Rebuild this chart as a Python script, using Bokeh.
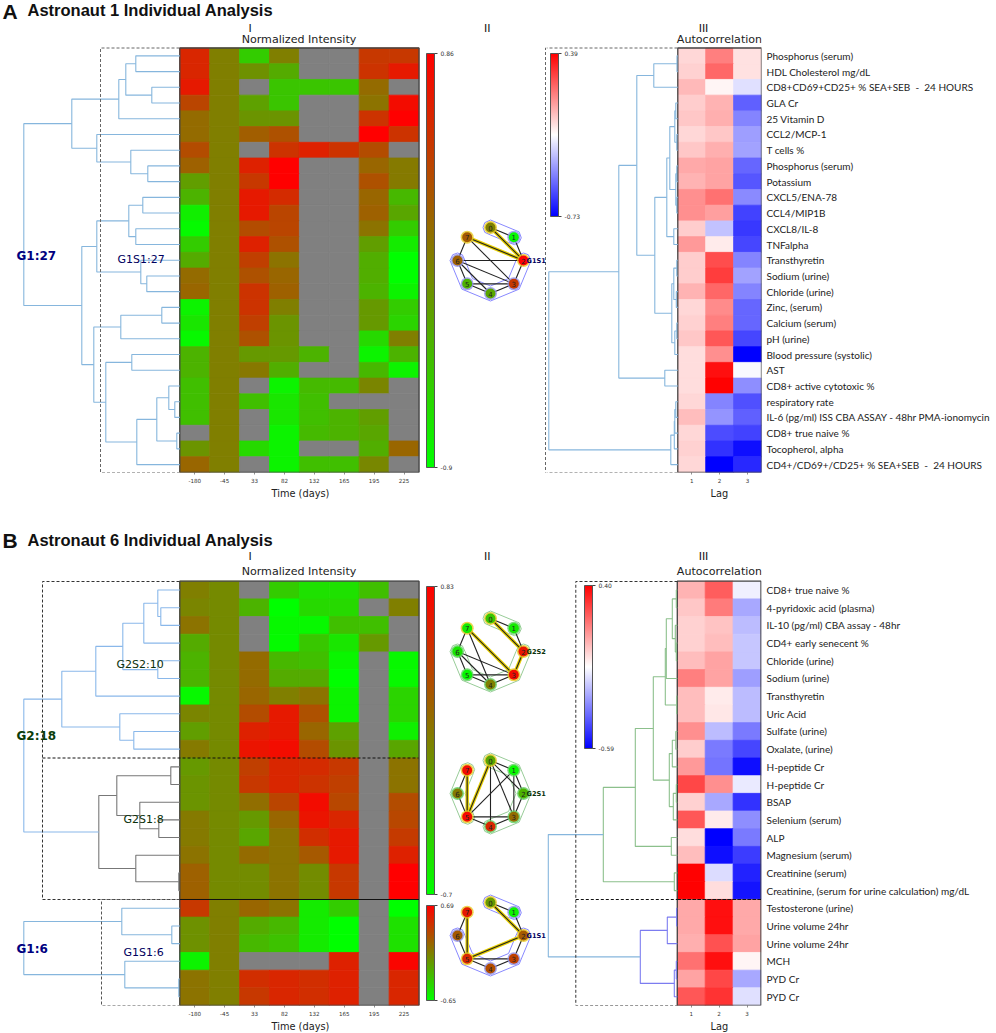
import numpy as np
from bokeh.plotting import figure
from bokeh.layouts import column, row
from bokeh.models import (ColumnDataSource, Range1d, LinearAxis, FixedTicker, LinearColorMapper,
                          ColorBar, Title)
from bokeh.core.properties import value
from bokeh.transform import transform
from bokeh.embed import file_html
from bokeh.resources import INLINE

N = None
TIMES = ["-180", "-45", "33", "82", "132", "165", "195", "225"]
LAGS = ["1", "2", "3"]

# position of each cell on its colour scale, percent (0 = bottom of bar, 100 = top), None = missing
A_INTENSITY = [
 [85,50,20,50,N,N,78,78],[85,50,43,33,N,N,80,90],[90,50,N,23,23,23,58,N],[73,50,37,23,N,N,55,95],
 [58,50,42,42,N,N,80,100],[58,50,63,68,N,N,100,80],[70,50,N,80,87,80,70,N],[62,50,87,100,N,N,60,52],
 [38,50,78,100,N,N,68,52],[30,50,90,83,N,N,60,28],[7,50,90,73,N,N,62,35],[2,50,70,73,N,N,55,20],
 [20,50,87,68,N,N,38,8],[33,50,75,55,N,N,32,0],[58,50,68,60,N,N,32,0],[60,50,80,62,N,N,30,5],
 [5,50,80,50,N,N,40,20],[10,50,75,42,N,N,40,17],[3,50,68,42,N,N,15,50],[30,50,40,40,30,N,5,30],
 [30,50,53,32,N,N,28,5],[25,50,N,5,27,27,48,N],[25,50,25,10,25,N,N,N],[25,50,N,10,25,30,38,N],
 [N,50,N,5,27,30,35,N],[42,50,15,5,N,N,32,60],[60,50,N,5,25,25,47,N]]
B_INTENSITY_G2 = [
 [50,46,N,20,12,12,25,N],[48,46,30,0,15,15,N,50],[55,46,N,3,3,25,25,N],[33,46,N,2,22,10,40,N],
 [30,46,58,28,25,4,N,3],[30,46,58,33,33,0,N,3],[3,46,60,50,55,5,N,17],[48,46,70,90,68,5,N,17],
 [38,46,87,90,60,37,N,6],[52,46,92,95,70,42,N,35],[40,46,75,85,83,78,N,55],[42,46,78,85,80,75,N,55],
 [42,46,57,73,95,72,N,70],[52,46,40,60,92,85,N,72],[52,46,35,55,82,90,N,77],[55,46,58,55,65,90,N,87],
 [62,46,45,55,45,78,N,100],[62,46,45,55,45,78,N,100]]
B_INTENSITY_G1 = [
 [78,50,60,55,8,20,N,0],[43,50,33,28,8,0,N,12],[43,50,28,24,8,0,N,12],
 [5,50,N,N,N,87,N,98],[55,50,82,85,82,87,N,85],[55,50,78,85,82,87,N,85]]
A_AUTOCORR = [
 [58,75,56],[59,80,56],[64,52,44],[60,65,19],[61,66,26],[58,61,31],[61,66,32],[67,68,20],[65,68,17],
 [72,78,27],[72,69,13],[60,38,11],[70,54,14],[60,85,26],[60,88,32],[65,80,26],[58,73,20],[59,75,20],
 [61,83,14],[57,72,0],[57,97,49],[57,100,28],[58,26,16],[63,29,19],[58,15,13],[59,10,3],[58,0,8]]
B_AUTOCORR = [
 [65,82,47],[61,76,33],[59,62,37],[59,63,39],[63,68,39],[75,68,31],[63,54,37],[63,55,37],[72,37,24],
 [60,24,14],[70,23,3],[86,72,46],[59,33,10],[83,54,28],[57,0,24],[63,3,12],[100,43,7],[100,57,4],
 [67,97,67],[67,97,67],[66,84,68],[78,97,52],[68,86,33],[83,90,44]]

NB = "\u00a0"
A_LABELS = ["Phosphorus (serum)","HDL Cholesterol mg/dL",f"CD8+CD69+CD25+ % SEA+SEB {NB}-{NB} 24 HOURS","GLA Cr",
 "25 Vitamin D","CCL2/MCP-1","T cells %","Phosphorus (serum)","Potassium","CXCL5/ENA-78","CCL4/MIP1B",
 "CXCL8/IL-8","TNFalpha","Transthyretin","Sodium (urine)","Chloride (urine)","Zinc, (serum)",
 "Calcium (serum)","pH (urine)","Blood pressure (systolic)","AST","CD8+ active cytotoxic %",
 "respiratory rate","IL-6 (pg/ml) ISS CBA ASSAY - 48hr PMA-ionomycin","CD8+ true naive %",
 "Tocopherol, alpha",f"CD4+/CD69+/CD25+ % SEA+SEB {NB}-{NB} 24 HOURS"]
B_LABELS = ["CD8+ true naive %","4-pyridoxic acid (plasma)","IL-10 (pg/ml) CBA assay - 48hr",
 "CD4+ early senecent %","Chloride (urine)","Sodium (urine)","Transthyretin","Uric Acid","Sulfate (urine)",
 "Oxalate, (urine)","H-peptide Cr","H-peptide Cr","BSAP","Selenium (serum)","ALP","Magnesium (serum)",
 "Creatinine (serum)","Creatinine, (serum for urine calculation) mg/dL","Testosterone (urine)",
 "Urine volume 24hr","Urine volume 24hr","MCH","PYD Cr","PYD Cr"]

# dendrograms: (merge height, child, child[, colour]); an integer child is a row
BLUE, GREY, LGREEN, VIOLET, SKY = "#86b6dd", "#777777", "#8cc08c", "#7c7cf0", "#8ab8ea"
A_TREE_LEFT = (156,
 (108, (61, (54, (44,0,1), (28,2,3)), 4), (83, 5, (49, 6, (32,7,8)))),
 (98, (83, (51, (37,9,10), (44,11,12)), (39, 13, (33,14,15))),
      (86, (59, (18,16,17), 18),
           (74, (48,19,20), (43, (23, (11,21,(5,22,23)), (3,24,25)), 26)))))
A_TREE_RIGHT = (129,
 (59, (41, (24, (0.8,0,1), 2),
           (23, (11, (8, (3, (2,3,4), (1,5,6)), (2, (1,7,8), (1,9,10))), (4,11,12)),
                (6, (4, (1,13,14), (1.5,15,16)), (3, (1,17,18), 19)))),
      (13,20,21)),
 (7, (3.5, (3, (2,22,23), 24), 25), 26))
B_TREE_LEFT_G2 = (156,
 (118, (84, (57, (36, (22, 0, (19,1,2)), 3), (22,4,5)), 6), (60, 7, (46,8,9))),
 (81, (63, (9,10,11), (40, 12, (21,13,14))), (44, 15, (1,16,17)), GREY))
B_TREE_LEFT_G1 = (156, (58, 18, (8,19,20)), (55, 21, (1,22,23)))
B_TREE_RIGHT = (129,
 (74, (42, (24, (12, (11, (5, (1,0,1), (2, 2, (1,3,4))), 5), (0.6,6,7)),
            (8, (5, (1.5,8,9), 10), (4, (1,11,12), 13))),
       (6,14,15)),
  (3,16,17), LGREEN),
 (37, (10, (0.7,18,19), 20), (3, (1,21,22), 23), VIOLET))

# networks: circular layout; edges, highlighted edges, hulls, node colour-scale positions
A_EDGES = [(0,1),(1,2),(7,6),(7,3),(6,2),(6,3),(6,5),(6,4),(5,4),(5,3),(4,3),(3,2)]
A_STRONG = [(0,2),(7,2)]
A_HULLS = [[0,1],[2,3,4,5,6]]
A_NODES = [50,3,100,78,35,30,62,65]
B1_EDGES = [(0,1),(1,2),(7,6),(7,4),(6,5),(6,4),(6,3),(5,4),(5,3),(4,3)]
B1_STRONG = [(0,2),(7,3),(3,2)]
B1_HULLS = [[0,1],[2,3,4,5,6]]
B1_NODES = [22,8,92,95,50,3,10,8]
B2_EDGES = [(7,6),(6,5),(0,1),(0,2),(0,3),(0,4),(1,2),(1,3),(1,5),(2,3),(3,4),(3,5),(4,5)]
B2_STRONG = [(7,5),(0,5)]
B2_HULLS = [[0,1,2,3,4],[5,6,7]]
B2_NODES = [35,3,30,58,85,97,52,95]
B3_EDGES = [(0,1),(1,2),(2,3),(3,4),(3,5),(4,5),(5,6),(6,7)]
B3_STRONG = [(0,2),(2,5),(7,5)]
B3_HULLS = [[0,1],[2,3,4,5,6]]
B3_NODES = [40,5,65,75,70,85,65,90]

RG = ["#%02x%02x00" % (i, 255 - i) for i in range(256)]
BWR = ["#%02x%02xff" % (2*i, 2*i) for i in range(128)] + ["#ff%02x%02x" % (255-2*i, 255-2*i) for i in range(128)]
SANS = "DejaVu Sans"
HEAD = "Liberation Sans"
LABF = "Lato"
SPLIT = 546


def make_fig(px0, px1, py0, py1, cx0, cxw, cols, top, rowh, nrows, bottom):
    p = figure(frame_width=px1-px0, frame_height=py1-py0, output_backend="svg", toolbar_location=None,
               x_axis_type=None, y_axis_type=None,
               x_range=Range1d((px0-cx0)/cxw, (px1-cx0)/cxw),
               y_range=Range1d((py1-top)/rowh, (py0-top)/rowh),
               min_border_left=0, min_border_right=0, min_border_top=0, min_border_bottom=bottom)
    p.outline_line_color = None
    p.extra_x_ranges["px"] = Range1d(px0, px1)
    p.extra_y_ranges["px"] = Range1d(py1, py0)
    p.extra_x_ranges["dist"] = Range1d(cx0-px0, cx0-px1)
    ax = LinearAxis(ticker=FixedTicker(ticks=[i+.5 for i in range(len(cols))]),
                    major_label_overrides={i+.5: c for i, c in enumerate(cols)})
    ax.axis_line_color = None
    ax.minor_tick_line_color = None
    ax.major_tick_in = 0
    ax.major_tick_out = 2
    ax.major_tick_line_color = "#444444"
    ax.major_tick_line_width = 0.6
    ax.major_label_text_font = SANS
    ax.major_label_text_font_size = "5.6px"
    ax.major_label_text_color = "#333333"
    ax.major_label_standoff = 3
    p.add_layout(ax, "below")
    return p


def below_title(p, s, offset):
    t = Title(text=s, align="left", offset=offset, standoff=0, text_font=SANS, text_font_size="9.8px",
              text_font_style="normal", text_color="#222222")
    p.add_layout(t, "below")


def txt(p, x, y, s, size, color="#111111", font=SANS, style="normal", align="left"):
    src = ColumnDataSource(dict(x=[x], y=[y], t=[s]))
    p.text("x", "y", "t", source=src, x_range_name="px", y_range_name="px", text_font=value(font),
           text_font_size=f"{size}px", text_color=color, text_font_style=style, text_align=align,
           text_baseline="middle")


def heat(p, rows, r0, palette, low, high):
    m = LinearColorMapper(palette=palette, low=low, high=high, nan_color="#808080")
    x, y, v = [], [], []
    for r, vals in enumerate(rows):
        for c, t in enumerate(vals):
            x.append(c+.5)
            y.append(r0+r+.5)
            v.append(np.nan if t is None else low + t/100*(high-low))
    src = ColumnDataSource(dict(x=x, y=y, v=np.array(v)))
    fill = transform("v", m)
    p.rect("x", "y", 1, 1, source=src, fill_color=fill, line_color=fill, line_width=0.8)
    return m


def border(p, nc, nr, color="#444444", width=1.3):
    p.rect([nc/2], [nr/2], [nc], [nr], fill_color=None, line_color=color, line_width=width)


def bar(p, m, x, yfrom, h, low_text, high_text, wid=8):
    cb = ColorBar(color_mapper=m, location=(x, yfrom), width=wid, height=h, padding=0,
                  ticker=FixedTicker(ticks=[m.low, m.high]),
                  major_label_overrides={m.low: low_text, m.high: high_text},
                  major_label_text_font=SANS, major_label_text_font_size="6px",
                  major_label_text_color="#333333", major_tick_in=0, major_tick_out=3,
                  major_tick_line_color="#444444", bar_line_color="#555555", bar_line_width=1,
                  minor_tick_line_color=None, label_standoff=3, background_fill_color=None,
                  border_line_color=None)
    p.add_layout(cb, "center")


def dendro(p, tree, color, width=1.1):
    xs, ys, cs = [], [], []

    def walk(node, col):
        if isinstance(node, int):
            return 0.0, node + .5
        if isinstance(node[-1], str):
            col = node[-1]
        h, a, b = node[:3]
        ha, ya = walk(a, col)
        hb, yb = walk(b, col)
        xs.append([ha, h, h, hb])
        ys.append([ya, ya, yb, yb])
        cs.append(col)
        return h, (ya+yb)/2
    walk(tree, color)
    p.multi_line(xs, ys, line_color=cs, line_width=width, x_range_name="dist")


def dash(p, xs, ys, color="#666666", d="3 2", w=1.0):
    p.line(xs, ys, line_color=color, line_dash=d, line_width=w, x_range_name="px", y_range_name="px")


def network(p, name, cy, top, bottom, edges, strong, hulls, nodes, hcol, ring, label, lcol):
    p.extra_x_ranges["netx"] = Range1d((0-490)/33, (SPLIT-490)/33)
    p.extra_y_ranges[name] = Range1d((cy-bottom)/33, (cy-top)/33)
    ang = np.radians(np.arange(8)*45.0)
    nx, ny = np.sin(ang), np.cos(ang)
    kw = dict(x_range_name="netx", y_range_name=name)
    d = 7.5/33
    for hull in hulls:
        hx, hy = [], []
        first = ang[hull[0]]
        last = ang[hull[-1]]
        hx += [nx[i]*(1+d) for i in hull]
        hy += [ny[i]*(1+d) for i in hull]
        for k in (-0.7, 0.0, 0.7):
            hx.append(nx[hull[-1]] + d*np.sin(last + np.pi/2 + k))
            hy.append(ny[hull[-1]] + d*np.cos(last + np.pi/2 + k))
        hx += [nx[i]*(1-d) for i in hull[::-1]]
        hy += [ny[i]*(1-d) for i in hull[::-1]]
        for k in (0.7, 0.0, -0.7):
            hx.append(nx[hull[0]] + d*np.sin(first - np.pi/2 - k))
            hy.append(ny[hull[0]] + d*np.cos(first - np.pi/2 - k))
        hx.append(hx[0])
        hy.append(hy[0])
        p.line(hx, hy, line_color=hcol, line_width=1.0, line_join="round", **kw)
    for i, j in strong:
        p.line([nx[i], nx[j]], [ny[i], ny[j]], line_color="#e8d000", line_width=3.4, **kw)
    for i, j in strong + edges:
        p.line([nx[i], nx[j]], [ny[i], ny[j]], line_color="#222222", line_width=1.1, **kw)
    halo = ["#e8c820" if any(i in e for e in strong) else ring for i in range(8)]
    p.scatter(nx, ny, size=13, fill_color=halo, line_color=None, fill_alpha=.8, **kw)
    cols = [RG[min(255, int(t*2.55))] for t in nodes]
    p.scatter(nx, ny, size=10, fill_color=cols, line_color=None, **kw)
    p.text(nx, ny, [str(i) for i in range(8)], text_font_size="7px", text_align="center",
           text_baseline="middle", text_color="#222222", text_font=value(SANS), **kw)
    txt(p, 526, cy, label, 6.6, lcol, style="bold")


# ---------- Panel A ----------
a1 = make_fig(0, SPLIT, 0, 472, 179.3, 29.9, TIMES, 47.5, 15.72, 27, 36)
m = heat(a1, A_INTENSITY, 0, RG, -0.9, 0.86)
border(a1, 8, 27)
dendro(a1, A_TREE_LEFT, BLUE)
dash(a1, [179, 100, 100, 179], [47.5, 47.5, 472, 472])
dash(a1, [546, 545, 545, 546], [47.5, 47.5, 472, 472])
bar(a1, m, 426, 5, 414, "-0.9", "0.86")
txt(a1, 2, 10.5, "A", 21, "#111111", HEAD, "bold")
txt(a1, 27, 9.5, "Astronaut 1 Individual Analysis", 16.5, "#111111", HEAD, "bold")
txt(a1, 249.7, 28, "I", 11, align="center")
txt(a1, 298.5, 38.5, "Normalized Intensity", 11.1, "#222222", align="center")
txt(a1, 486.7, 28, "II", 11, align="center")
txt(a1, 16, 255.5, "G1:27", 12, "#000080", style="bold")
txt(a1, 117, 259, "G1S1:27", 11, "#000060")
network(a1, "n0", 260, 0, 472, A_EDGES, A_STRONG, A_HULLS, A_NODES, "#8888ff", "#9090e8", "G1S1", "#000060")
below_title(a1, "Time (days)", 271)


def right(px_top, rowh, nrows, labels, py0, py1, bottom, left_heat, cellw):
    p = make_fig(SPLIT, 761, py0, py1, left_heat, cellw, LAGS, px_top, rowh, nrows, bottom)
    p.min_border_right = 235
    ax = LinearAxis(ticker=FixedTicker(ticks=[i+.5 for i in range(nrows)]),
                    major_label_overrides={i+.5: s for i, s in enumerate(labels)})
    ax.axis_line_color = None
    ax.major_tick_line_color = None
    ax.minor_tick_line_color = None
    ax.major_tick_in = 0
    ax.major_tick_out = 0
    ax.major_label_text_font = LABF
    ax.major_label_text_font_size = "10px"
    ax.major_label_text_color = "#222222"
    ax.major_label_standoff = 5
    p.add_layout(ax, "right")
    return p


a2 = right(47.5, 15.72, 27, A_LABELS, 0, 472, 36, 677.3, 27.9)
m = heat(a2, A_AUTOCORR, 0, BWR, -0.73, 0.39)
border(a2, 3, 27)
dendro(a2, A_TREE_RIGHT, BLUE)
dash(a2, [677, 546], [47.5, 47.5])
dash(a2, [677, 546], [472, 472])
bar(a2, m, 550-SPLIT, 256, 163, "-0.73", "0.39")
txt(a2, 703, 28, "III", 11, align="center")
txt(a2, 719, 38.5, "Autocorrelation", 11.1, "#222222", align="center")
below_title(a2, "Lag", 719-SPLIT-9)

# ---------- Panel B ----------
b1 = make_fig(0, SPLIT, 508, 1005, 179.3, 29.9, TIMES, 580.7, 17.68, 24, 28)
m1 = heat(b1, B_INTENSITY_G2, 0, RG, -0.7, 0.83)
m2 = heat(b1, B_INTENSITY_G1, 18, RG, -0.65, 0.69)
border(b1, 8, 24)
dendro(b1, B_TREE_LEFT_G2, SKY)
dendro(b1, B_TREE_LEFT_G1, BLUE)
dash(b1, [179, 42, 42, 179], [581, 581, 899, 899], "#333333")
dash(b1, [42, 418], [757.5, 757.5], "#111111")
dash(b1, [179, 101, 101, 179], [899, 899, 1005, 1005], "#555555")
b1.line([0, 8], [18, 18], line_color="#111111", line_width=1.1)
bar(b1, m1, 426, 111, 308, "-0.7", "0.83")
bar(b1, m2, 426, 5, 95, "-0.65", "0.69")
txt(b1, 2, 540, "B", 21, "#111111", HEAD, "bold")
txt(b1, 27, 539, "Astronaut 6 Individual Analysis", 16.5, "#111111", HEAD, "bold")
txt(b1, 249.7, 556, "I", 11, align="center")
txt(b1, 298.5, 571, "Normalized Intensity", 11.1, "#222222", align="center")
txt(b1, 486.7, 556, "II", 11, align="center")
txt(b1, 16, 735.5, "G2:18", 12, "#0a3d0a", style="bold")
txt(b1, 116, 664, "G2S2:10", 11, "#0a300a")
txt(b1, 123, 819, "G2S1:8", 11, "#0a300a")
txt(b1, 16, 948, "G1:6", 12, "#000080", style="bold")
txt(b1, 123, 952, "G1S1:6", 11, "#000060")
network(b1, "n1", 651, 508, 1005, B1_EDGES, B1_STRONG, B1_HULLS, B1_NODES, "#98cc98", "#60d060", "G2S2", "#0a300a")
network(b1, "n2", 793, 508, 1005, B2_EDGES, B2_STRONG, B2_HULLS, B2_NODES, "#98cc98", "#60d060", "G2S1", "#0a300a")
network(b1, "n3", 935, 508, 1005, B3_EDGES, B3_STRONG, B3_HULLS, B3_NODES, "#8888ff", "#9090e8", "G1S1", "#000060")
below_title(b1, "Time (days)", 271)

b2 = right(580.7, 17.68, 24, B_LABELS, 508, 1005, 28, 676.8, 27.9)
m = heat(b2, B_AUTOCORR, 0, BWR, -0.59, 0.40)
border(b2, 3, 24)
dendro(b2, B_TREE_RIGHT, "#86b6dd")
dash(b2, [677, 575.3, 575.3, 677], [581, 581, 1005, 1005], "#333333")
dash(b2, [575.3, 677], [899, 899], "#111111")
b2.line([0, 3], [18, 18], line_color="#111111", line_width=1.1, line_dash="4 1")
bar(b2, m, 584-SPLIT, 257, 163, "-0.59", "0.40")
txt(b2, 703, 556, "III", 11, align="center")
txt(b2, 719, 571, "Autocorrelation", 11.1, "#222222", align="center")
below_title(b2, "Lag", 719-SPLIT-9)

page = column(row(a1, a2, spacing=0), row(b1, b2, spacing=0), spacing=0)
open("out.html", "w").write(file_html(page, INLINE))
